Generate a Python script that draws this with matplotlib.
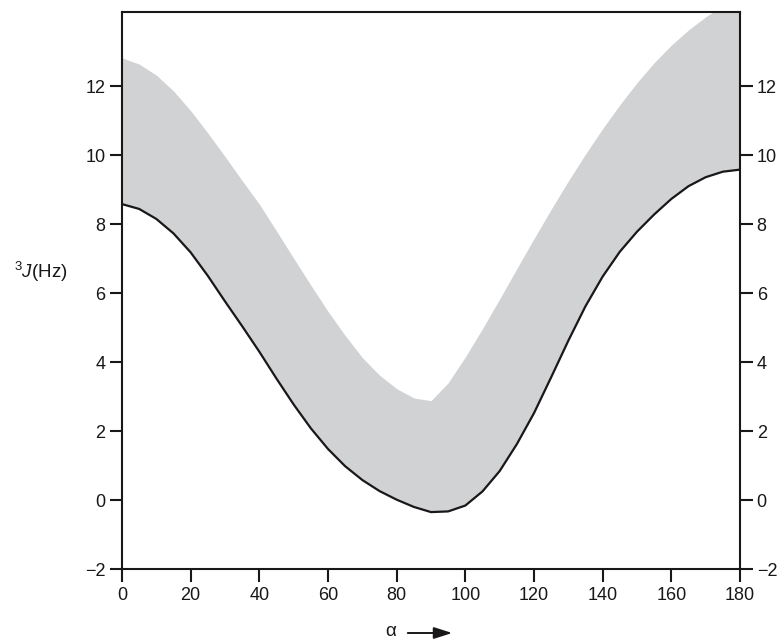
import matplotlib
matplotlib.use("Agg")
import matplotlib.pyplot as plt
import numpy as np

plt.rcParams['font.family'] = ['Liberation Sans', 'DejaVu Sans']
plt.rcParams['mathtext.fontset'] = 'custom'
plt.rcParams['mathtext.rm'] = 'Liberation Sans'
plt.rcParams['mathtext.it'] = 'Liberation Sans:italic'

# dihedral angle (degrees)
alpha = [0, 5, 10, 15, 20, 25, 30, 35, 40, 45, 50, 55, 60, 65, 70, 75, 80, 85,
         90, 95, 100, 105, 110, 115, 120, 125, 130, 135, 140, 145, 150, 155,
         160, 165, 170, 175, 180]
# lower bound curve (black line)
j_lower = [8.58, 8.44, 8.15, 7.73, 7.18, 6.50, 5.76, 5.04, 4.30, 3.52, 2.77,
           2.08, 1.48, 0.98, 0.58, 0.26, 0.01, -0.20, -0.35, -0.33, -0.16,
           0.25, 0.84, 1.62, 2.52, 3.56, 4.62, 5.62, 6.48, 7.20, 7.78, 8.28,
           8.73, 9.10, 9.36, 9.52, 9.58]
# upper bound of the shaded band
j_upper = [12.82, 12.64, 12.32, 11.86, 11.29, 10.64, 9.96, 9.26, 8.58, 7.80,
           7.01, 6.23, 5.47, 4.77, 4.13, 3.62, 3.23, 2.96, 2.88, 3.40, 4.15,
           4.97, 5.83, 6.71, 7.58, 8.43, 9.25, 10.03, 10.77, 11.46, 12.10,
           12.68, 13.19, 13.63, 14.01, 14.34, 14.64]

xticks = [0, 20, 40, 60, 80, 100, 120, 140, 160, 180]
yticks = [-2, 0, 2, 4, 6, 8, 10, 12]

fig = plt.figure(figsize=(7.8, 6.39), dpi=100)
ax = fig.add_axes([122/780, 1-569/639, (740-122)/780, (569-12)/639])

ax.fill_between(alpha, j_lower, j_upper, color='#d1d2d4', linewidth=0)
ax.plot(alpha, j_lower, color='#1a1718', linewidth=1.6,
        solid_joinstyle='round')

ax.set_xlim(0, 180)
ax.set_ylim(-2, 14.15)
ax.set_xticks(xticks)
ax.set_yticks(yticks)
ax.set_yticklabels([str(t).replace('-', '\u2212') for t in yticks])

for s in ax.spines.values():
    s.set_linewidth(1.5)
    s.set_color('#1a1718')

ax.tick_params(axis='x', direction='out', length=9, width=1.5, pad=4,
               labelsize=13, colors='#1a1718')
ax.tick_params(axis='y', direction='out', length=9, width=1.5, pad=3,
               labelsize=13, colors='#1a1718', left=True, right=True,
               labelleft=True, labelright=True)

fig.text(41/780, 1-272/639, r'$^{3}\mathit{J}$(Hz)', fontsize=13.5,
         ha='center', va='center', color='#1a1718')

fig.text(391/780, 1-632/639, '\u03b1', fontsize=13.5, ha='center',
         va='center', color='#1a1718')
fig.add_artist(matplotlib.patches.FancyArrowPatch(
    (405/780, 1-633/639), (455/780, 1-633/639), transform=fig.transFigure,
    arrowstyle='-|>,head_length=11,head_width=3.5', mutation_scale=1,
    color='#1a1718', linewidth=1.4))

fig.savefig('out.png', dpi=100)
